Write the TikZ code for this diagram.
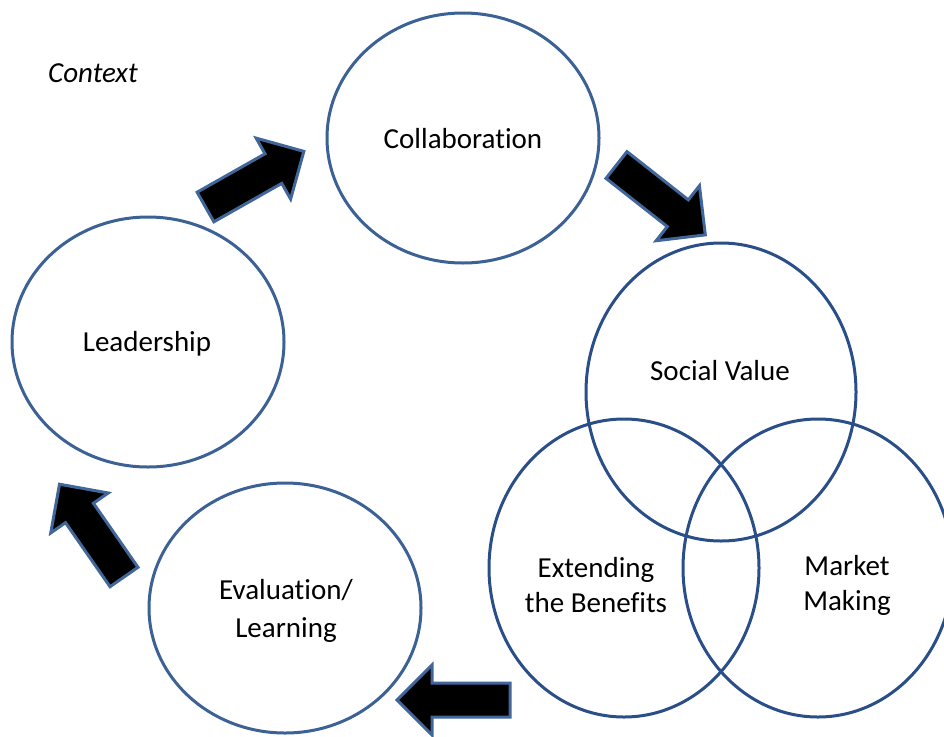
\documentclass[tikz,border=0pt]{standalone}
\usepackage{fontspec}
\setmainfont{Carlito}[Ligatures=NoCommon]
\usetikzlibrary{shapes.geometric}
\definecolor{ringblue}{HTML}{3B6195}
\definecolor{vennblue}{HTML}{2A4E88}
\definecolor{arrowedge}{HTML}{41679A}
\tikzset{
  ring/.style={ellipse, draw=ringblue, line width=3pt, inner sep=0pt},
  venn/.style={ellipse, draw=vennblue, line width=3pt, inner sep=0pt},
  lbl/.style={font=\fontsize{29}{35}\selectfont, align=center, inner sep=0pt},
  barrow/.style={draw=arrowedge, fill=black, line width=3pt, line join=miter}
}
\newcommand\blockarr[3]{%
  \begin{scope}[shift={(#1,#2)}, rotate=#3]
    \draw[barrow] (0,-17) -- (78,-17) -- (78,-35) -- (113,0) -- (78,35) -- (78,17) -- (0,17) -- cycle;
  \end{scope}}
\begin{document}
\begin{tikzpicture}[x=1pt,y=-1pt]
  \useasboundingbox (0,0) rectangle (944,736);
  \clip (0,0) rectangle (944,736);
  \fill[white] (0,0) rectangle (944,736);

  % circles
  \node[ring, minimum width=272pt, minimum height=250pt] (collab) at (463,138) {};
  \node[ring, minimum width=272pt, minimum height=250pt] (lead) at (148,342) {};
  \node[ring, minimum width=272pt, minimum height=250pt] (eval) at (285,608) {};
  \node[venn, minimum width=270pt, minimum height=298pt] (social) at (721,392) {};
  \node[venn, minimum width=270pt, minimum height=298pt] (extend) at (624,568) {};
  \node[venn, minimum width=270pt, minimum height=298pt] (market) at (818,568) {};

  % labels
  \node[lbl, font=\fontsize{29}{35}\selectfont\itshape] (context) at (93,73) {Context};
  \node[lbl] (tcollab) at (463,139) {Collaboration};
  \node[lbl] (tlead) at (147,344) {Leadership};
  \node[lbl] (tsocial) at (720,371) {Social Value};
  \node[lbl] (textend) at (596,585) {Extending\\the Benefits};
  \node[lbl] (tmarket) at (847,585) {Market\\Making};
  \node[lbl] (teval) at (286,611) {Evaluation/\\[3pt]Learning};

  % block arrows
  \blockarr{205.5}{207}{29.5}
  \blockarr{616.5}{165}{-38.2}
  \blockarr{510}{700}{180}
  \blockarr{124}{577}{124.8}
\end{tikzpicture}
\end{document}
